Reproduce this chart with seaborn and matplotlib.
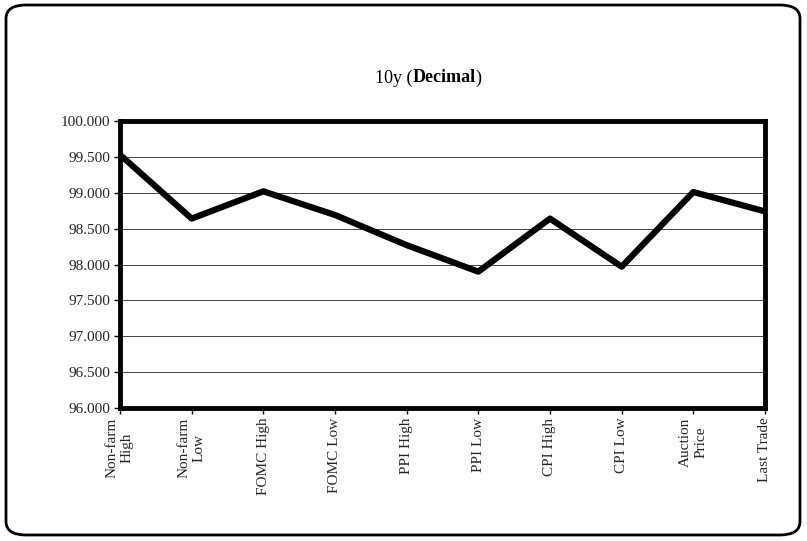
import matplotlib
matplotlib.use("Agg")
import matplotlib.pyplot as plt
import seaborn as sns
import pandas as pd
from matplotlib.patches import FancyBboxPatch
from matplotlib.transforms import offset_copy

categories = ["Non-farm\nHigh", "Non-farm\nLow", "FOMC High", "FOMC Low", "PPI High",
              "PPI Low", "CPI High", "CPI Low", "Auction\nPrice", "Last Trade"]
values = [99.53, 98.64, 99.02, 98.69, 98.27, 97.90, 98.64, 97.97, 99.01, 98.74]

sns.set_theme(style="white")
plt.rcParams['font.family'] = ['Liberation Serif', 'DejaVu Serif']

fig = plt.figure(figsize=(8.07, 5.41), dpi=100)
ax = fig.add_axes([120/807, 1-408/541, 645/807, 287/541])
df = pd.DataFrame({"x": range(len(values)), "y": values})
sns.lineplot(data=df, x="x", y="y", ax=ax, color="black", linewidth=4.5)
ax.set_xlim(0, 9)
ax.set_ylim(96, 100)
ax.set_yticks([96 + 0.5*i for i in range(9)])
ax.set_yticklabels([f"{96 + 0.5*i:.3f}" for i in range(9)], fontsize=11)
ax.set_xticks(range(len(categories)))
ax.set_xticklabels(categories, rotation=90, fontsize=11, va="top", ha="center", multialignment="center")
ax.set_xlabel(""); ax.set_ylabel("")
ax.yaxis.grid(True, color="#444444", linewidth=0.7)
for s in ax.spines.values():
    s.set_linewidth(3.5); s.set_color("black")
ax.tick_params(axis="both", which="both", direction="out", length=4, width=1, color="black",
               left=True, bottom=True, pad=3)

# title in three pieces
fig.canvas.draw()
r = fig.canvas.get_renderer()
y = 1-78/541
t1 = fig.text(375/807, y, "10y (", fontsize=13, ha="left", va="center", color="black")
w1 = t1.get_window_extent(r).width
t2 = fig.text(375/807 + w1/807, y, "Decimal", fontsize=13, ha="left", va="center", fontweight="bold", color="black")
w2 = t2.get_window_extent(r).width
fig.text(375/807 + (w1+w2)/807, y, ")", fontsize=13, ha="left", va="center", color="black")

box = FancyBboxPatch((6/807, 6/541), 794/807, 530/541, boxstyle="round,pad=0,rounding_size=0.025",
                     transform=fig.transFigure, fill=False, edgecolor="black", linewidth=2)
fig.patches.append(box)
fig.savefig("out.png", dpi=100)
